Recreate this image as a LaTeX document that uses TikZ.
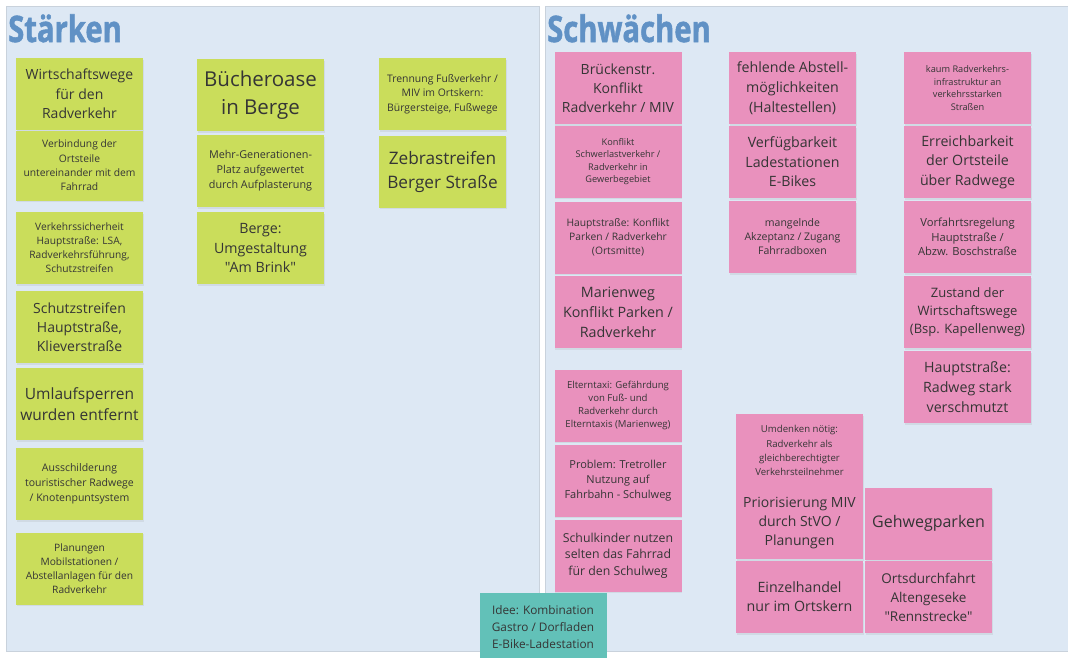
\documentclass[tikz,border=0pt]{standalone}
\usepackage{fontspec}
\setmainfont{Open Sans}[Ligatures=TeXOff]
\newfontfamily\titlefont{Open Sans}[Ligatures=TeXOff,FakeBold=1.6]
\usetikzlibrary{shadows}
\definecolor{panelbg}{HTML}{DDE8F4}
\definecolor{panelline}{HTML}{C9D2DC}
\definecolor{titleblue}{HTML}{6091C5}
\definecolor{stickgreen}{HTML}{CADD5B}
\definecolor{stickpink}{HTML}{E991BD}
\definecolor{stickteal}{HTML}{62C1B8}
\definecolor{txt}{HTML}{353535}
\tikzset{
  panel/.style={fill=panelbg, draw=panelline, line width=0.8pt},
  titletext/.style={anchor=base west, inner sep=0pt, text=titleblue, font=\titlefont\fontsize{36.5}{40}\selectfont\bfseries},
  sticky/.style={rectangle, minimum width=127pt, minimum height=72pt, inner sep=0pt, align=center, text=txt,
     drop shadow={opacity=0.13, shadow xshift=0.8pt, shadow yshift=-1.6pt}},
  gbox/.style={sticky, fill=stickgreen},
  pbox/.style={sticky, fill=stickpink},
  tbox/.style={sticky, fill=stickteal},
  fs/.style 2 args={font=\fontsize{#1}{#2}\selectfont}
}
\begin{document}
\begin{tikzpicture}[x=1pt,y=-1pt]
\useasboundingbox (0,0) rectangle (1068,657);
\clip (0,0) rectangle (1068,657);
\fill[white] (0,0) rectangle (1068,657);
% panels
\draw[panel] (6,6) rectangle (539,651);
\draw[panel] (545,6) rectangle (1075,651);
\node[titletext] (t1) at (8,42) {\scalebox{0.8}[1]{Stärken}};
\node[titletext] (t2) at (547,42) {\scalebox{0.8}[1]{Schwächen}};
% Staerken column 1
\node[gbox, fs={14}{19.5}] (g1) at (79.5,94) {Wirtschaftswege\\für den\\Radverkehr};
\node[gbox, fs={10.3}{14.4}, minimum height=70pt] (g2) at (79.5,165.5) {Verbindung der\\Ortsteile\\untereinander mit dem\\Fahrrad};
\node[gbox, fs={10.2}{14}] (g3) at (79.5,248) {Verkehrssicherheit\\Hauptstraße: LSA,\\Radverkehrsführung,\\Schutzstreifen};
\node[gbox, fs={14}{19}] (g4) at (79.5,327) {Schutzstreifen\\Hauptstraße,\\Klieverstraße};
\node[gbox, fs={15.5}{21}] (g5) at (79.5,404) {Umlaufsperren\\wurden entfernt};
\node[gbox, fs={10.5}{15}] (g6) at (79.5,484) {Ausschilderung\\touristischer Radwege\\/ Knotenpuntsystem};
\node[gbox, fs={10.2}{14}] (g7) at (79.5,568.5) {Planungen\\Mobilstationen /\\Abstellanlagen für den\\Radverkehr};
% column 2
\node[gbox, fs={20.5}{28}] (g8) at (260.5,95) {Bücheroase\\in Berge};
\node[gbox, fs={10.8}{15}] (g9) at (260.5,171) {Mehr-Generationen-\\Platz aufgewertet\\durch Aufplasterung};
\node[gbox, fs={14.2}{19.5}] (g10) at (260.5,248) {Berge:\\Umgestaltung\\"Am Brink"};
% column 3
\node[gbox, fs={10.4}{14.5}] (g11) at (442.5,94) {Trennung Fußverkehr /\\MIV im Ortskern:\\Bürgersteige, Fußwege};
\node[gbox, fs={17.2}{24}] (g12) at (442.5,171.5) {Zebrastreifen\\Berger Straße};
% Schwaechen column A
\node[pbox, fs={14}{19}] (p1) at (618,88) {Brückenstr.\\Konflikt\\Radverkehr / MIV};
\node[pbox, fs={9.2}{12.6}] (p2) at (618,161.5) {Konflikt\\Schwerlastverkehr /\\Radverkehr in\\Gewerbegebiet};
\node[pbox, fs={10.3}{14}] (p3) at (618,237.5) {Hauptstraße: Konflikt\\Parken / Radverkehr\\(Ortsmitte)};
\node[pbox, fs={14.3}{20}] (p4) at (618,312) {Marienweg\\Konflikt Parken /\\Radverkehr};
\node[pbox, fs={9.6}{13.3}] (p5) at (618,405.5) {Elterntaxi: Gefährdung\\von Fuß- und\\Radverkehr durch\\Elterntaxis (Marienweg)};
\node[pbox, fs={11}{15}] (p6) at (618,480.5) {Problem: Tretroller\\Nutzung auf\\Fahrbahn - Schulweg};
\node[pbox, fs={12.3}{16.5}] (p7) at (618,555.5) {Schulkinder nutzen\\selten das Fahrrad\\für den Schulweg};
% column B
\node[pbox, fs={14.2}{20}] (p8) at (792.5,88) {fehlende Abstell-\\möglichkeiten\\(Haltestellen)};
\node[pbox, fs={14.2}{19.5}] (p9) at (792.5,162) {Verfügbarkeit\\Ladestationen\\E-Bikes};
\node[pbox, fs={10.5}{14}] (p10) at (792.5,237) {mangelnde\\Akzeptanz / Zugang\\Fahrradboxen};
% column C
\node[pbox, fs={9.2}{12.7}] (p11) at (967.5,88) {kaum Radverkehrs-\\infrastruktur an\\verkehrsstarken\\Straßen};
\node[pbox, fs={14.2}{19.5}] (p12) at (967.5,162) {Erreichbarkeit\\der Ortsteile\\über Radwege};
\node[pbox, fs={11.2}{14.5}] (p13) at (967.5,237) {Vorfahrtsregelung\\Hauptstraße /\\Abzw. Boschstraße};
\node[pbox, fs={13}{18}] (p14) at (967.5,312) {Zustand der\\Wirtschaftswege\\(Bsp. Kapellenweg)};
\node[pbox, fs={14.2}{20}] (p15) at (967.5,387) {Hauptstraße:\\Radweg stark\\verschmutzt};
% bottom group
\node[pbox, fs={9.6}{14.2}, minimum height=73pt] (p16) at (799.5,450.5) {Umdenken nötig:\\Radverkehr als\\gleichberechtigter\\Verkehrsteilnehmer};
\node[pbox, fs={14}{19}] (p17) at (799.5,523) {Priorisierung MIV\\durch StVO /\\Planungen};
\node[pbox, fs={16}{20}] (p18) at (928.5,523.5) {Gehwegparken};
\node[pbox, fs={14.2}{19}] (p19) at (799.5,597) {Einzelhandel\\nur im Ortskern};
\node[pbox, fs={13.5}{19}] (p20) at (928.5,597) {Ortsdurchfahrt\\Altengeseke\\"Rennstrecke"};
% idea
\node[tbox, fs={11.8}{16.6}, minimum height=68pt] (i1) at (543,627) {Idee: Kombination\\Gastro / Dorfladen\\E-Bike-Ladestation};
\end{tikzpicture}
\end{document}
